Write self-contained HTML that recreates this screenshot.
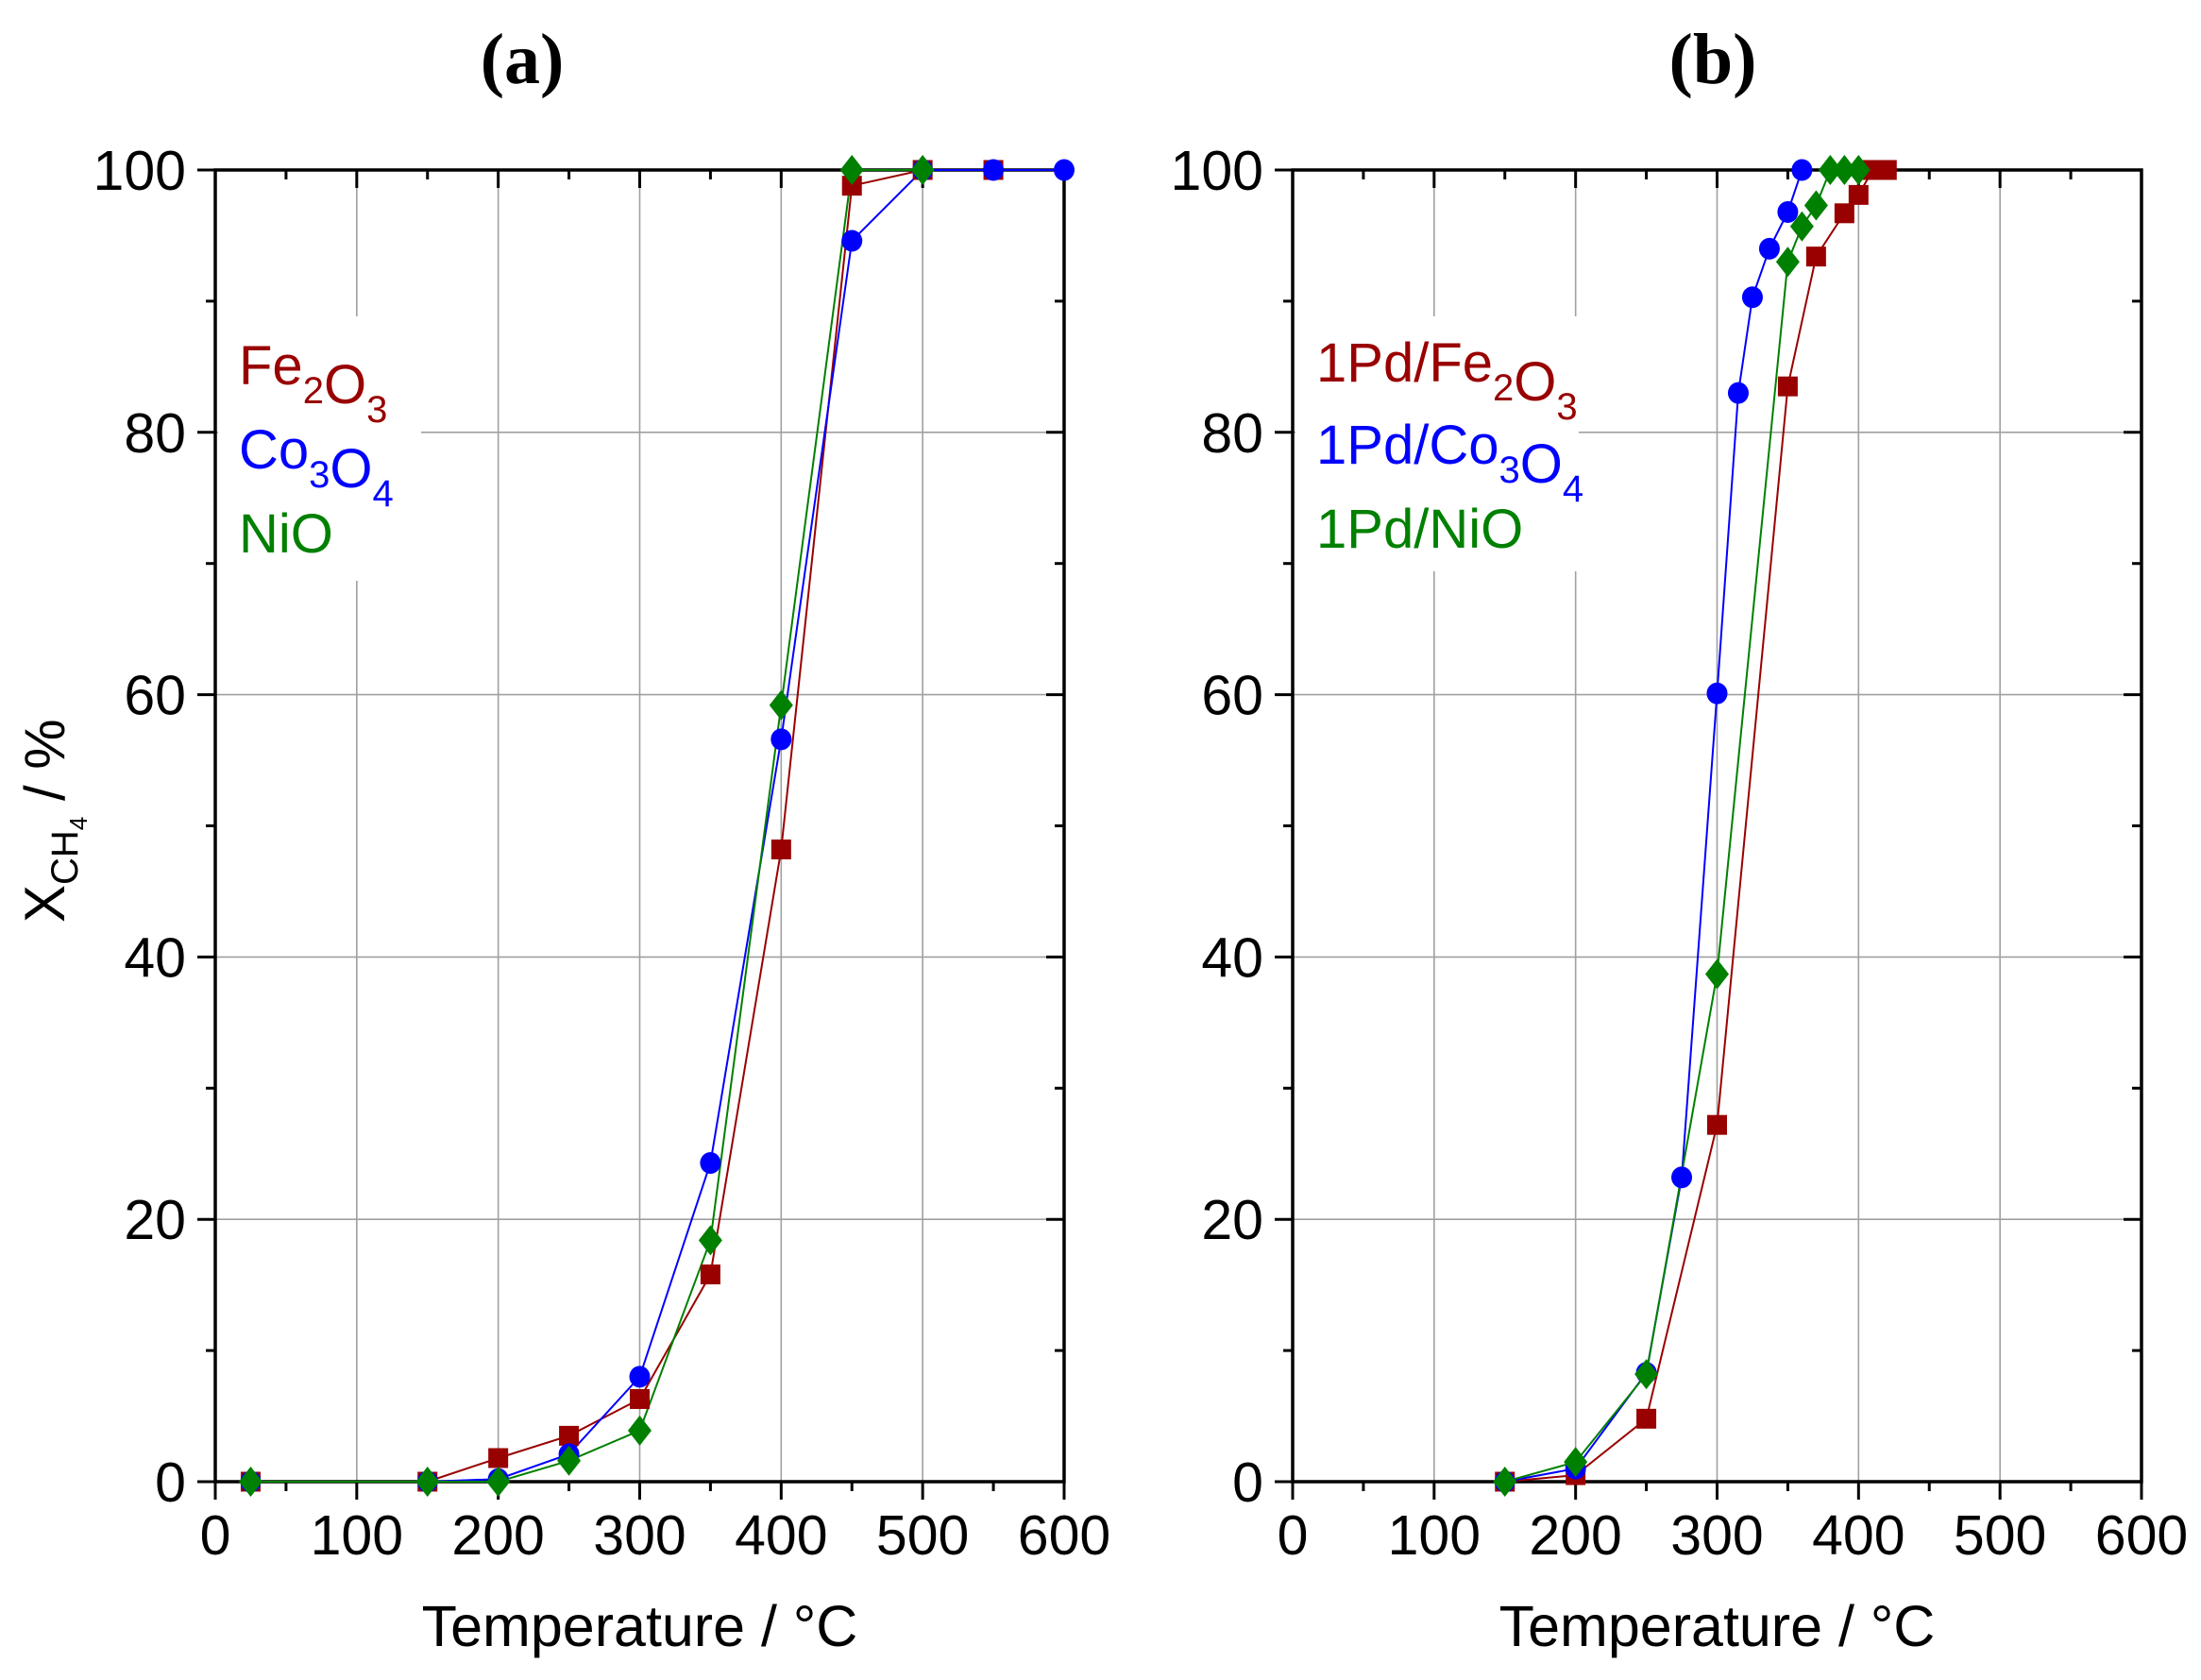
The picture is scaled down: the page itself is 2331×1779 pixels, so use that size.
<!DOCTYPE html>
<html><head><meta charset="utf-8"><style>
html,body{margin:0;padding:0;background:#fff;}
svg{display:block;font-family:"Liberation Sans",Arial,sans-serif;}
</style></head><body>
<svg id="s" width="2331" height="1779" viewBox="0 0 2331 1779" xmlns="http://www.w3.org/2000/svg">
<rect width="2331" height="1779" fill="#fff"/>
<text x="553" y="88" text-anchor="middle" font-family="Liberation Serif,serif" font-weight="bold" font-size="76">(a)</text>
<text x="1814" y="88" text-anchor="middle" font-family="Liberation Serif,serif" font-weight="bold" font-size="76">(b)</text>
<text transform="translate(68,977) rotate(-90)" font-size="60">X<tspan font-size="40" dy="14">CH</tspan><tspan font-size="26" dy="10">4</tspan><tspan dy="-24"> / %</tspan></text>
<g id="g"></g>
</svg>
<script>
const Y=v=>1569-v*13.89;
let out='';
function panel(x0,data,legend,lb){
  const X=v=>x0+v*1.4983, x1=X(600);
  for(let t=100;t<600;t+=100) out+=`<line x1="${X(t)}" y1="${Y(0)}" x2="${X(t)}" y2="${Y(100)}" stroke="#a0a0a0" stroke-width="1.6"/>`;
  for(let t=20;t<100;t+=20) out+=`<line x1="${x0}" y1="${Y(t)}" x2="${x1}" y2="${Y(t)}" stroke="#a0a0a0" stroke-width="1.6"/>`;
  out+=`<rect x="${x0+3}" y="${lb[1]}" width="${lb[0]}" height="${lb[2]}" fill="#fff"/>`;
  for(let t=0;t<=600;t+=50){const L=t%100?10:19;
    out+=`<line x1="${X(t)}" y1="${Y(0)}" x2="${X(t)}" y2="${Y(0)+L}" stroke="#000" stroke-width="3"/>`;
    out+=`<line x1="${X(t)}" y1="${Y(100)}" x2="${X(t)}" y2="${Y(100)+L}" stroke="#000" stroke-width="3"/>`;
    if(t%100==0) out+=`<text x="${X(t)}" y="1646" text-anchor="middle" font-size="59">${t}</text>`;}
  for(let t=0;t<=100;t+=10){const L=t%20?10:19;
    out+=`<line x1="${x0}" y1="${Y(t)}" x2="${x0-L}" y2="${Y(t)}" stroke="#000" stroke-width="3"/>`;
    out+=`<line x1="${x1}" y1="${Y(t)}" x2="${x1-L}" y2="${Y(t)}" stroke="#000" stroke-width="3"/>`;
    if(t%20==0) out+=`<text x="${x0-31}" y="${Y(t)+21}" text-anchor="end" font-size="59">${t}</text>`;}
  out+=`<rect x="${x0}" y="${Y(100)}" width="${x1-x0}" height="${Y(0)-Y(100)}" fill="none" stroke="#000" stroke-width="3.5"/>`;
  out+=`<text x="${(x0+x1)/2}" y="1743" text-anchor="middle" font-size="61">Temperature / °C</text>`;
  data.forEach(([c,m,pts])=>{
    out+=`<polyline fill="none" stroke="${c}" stroke-width="2" points="${pts.map(p=>X(p[0])+','+Y(p[1])).join(' ')}"/>`;
  });
  data.forEach(([c,m,pts])=>{
    pts.forEach(p=>{const x=X(p[0]),y=Y(p[1]);
      if(m=='s') out+=`<rect x="${x-10.5}" y="${y-10.5}" width="21" height="21" fill="${c}"/>`;
      else if(m=='c') out+=`<ellipse cx="${x}" cy="${y}" rx="11" ry="11.5" fill="${c}"/>`;
      else out+=`<polygon points="${x},${y-16} ${x+12.5},${y} ${x},${y+16} ${x-12.5},${y}" fill="${c}"/>`;});
  });
  legend.forEach(([c,html,yy])=>{out+=`<text x="${x0+25}" y="${yy}" fill="${c}" font-size="58">${html}</text>`;});
}
const R='#990000',B='#0000ff',G='#008000';
const sub=s=>`<tspan font-size="40" dy="20">${s}</tspan><tspan dy="-20"></tspan>`;
panel(228,[
 [R,'s',[[25,0],[150,0],[200,1.8],[250,3.5],[300,6.3],[350,15.8],[400,48.2],[450,98.8],[500,100],[550,100]]],
 [B,'c',[[25,0],[150,0],[200,0.2],[250,2.1],[300,8],[350,24.3],[400,56.6],[450,94.6],[500,100],[550,100],[600,100]]],
 [G,'d',[[25,0],[150,0],[200,0],[250,1.6],[300,3.9],[350,18.4],[400,59.2],[450,100],[500,100]]]
],[[R,'Fe'+sub('2')+'O'+sub('3'),407],[B,'Co'+sub('3')+'O'+sub('4'),496],[G,'NiO',585]],[215,335,280]);
panel(1369,[
 [R,'s',[[150,0],[200,0.5],[250,4.8],[300,27.2],[350,83.5],[370,93.4],[390,96.7],[400,98.1],[410,100],[420,100]]],
 [B,'c',[[150,0],[200,1],[250,8.3],[275,23.2],[300,60.1],[315,83],[325,90.3],[337,94],[350,96.8],[360,100]]],
 [G,'d',[[150,0],[200,1.5],[250,8.2],[300,38.7],[350,93],[360,95.7],[370,97.3],[380,100],[390,100],[400,100]]]
],[[R,'1Pd/Fe'+sub('2')+'O'+sub('3'),404],[B,'1Pd/Co'+sub('3')+'O'+sub('4'),491],[G,'1Pd/NiO',580]],[300,335,270]);
document.getElementById('g').innerHTML=out;
</script>
</body></html>
